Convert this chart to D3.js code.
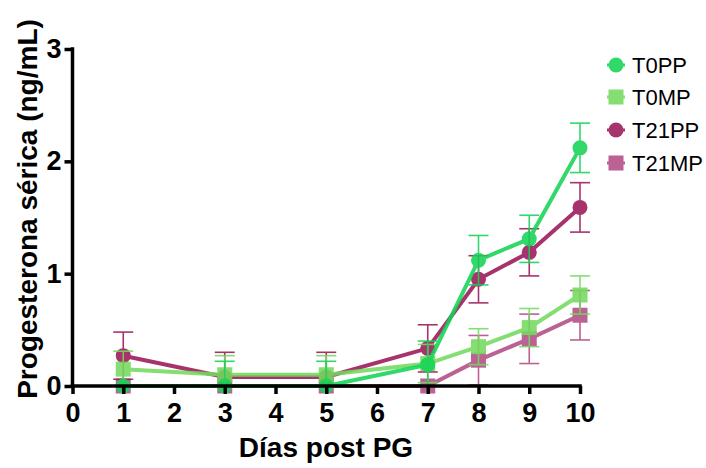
<!DOCTYPE html>
<html><head><meta charset="utf-8">
<script src="https://cdn.jsdelivr.net/npm/d3@7"></script>
<style>body{margin:0;background:#fff}svg{display:block}</style>
</head><body>
<svg id="c" width="706" height="468"></svg>
<script>
const days = [1, 3, 5, 7, 8, 9, 10];
const xTicks = [0,1,2,3,4,5,6,7,8,9,10];
const yTicks = [0,1,2,3];
const seriesNames = ["T0PP", "T0MP", "T21PP", "T21MP"];
const T0PP = [0, 0, 0, 0.19, 1.12, 1.31, 2.12];
const T0PP_err = [0, 0.22, 0.22, 0.21, 0.22, 0.21, 0.22];
const T0MP = [0.15, 0.10, 0.10, 0.20, 0.35, 0.52, 0.81];
const T0MP_err = [0.16, 0.17, 0.17, 0.17, 0.16, 0.17, 0.17];
const T21PP = [0.27, 0.08, 0.08, 0.335, 0.95, 1.19, 1.59];
const T21PP_err = [0.21, 0.22, 0.22, 0.21, 0.21, 0.21, 0.22];
const T21MP = [0, 0, 0, 0, 0.23, 0.42, 0.63];
const T21MP_err = [0, 0, 0, 0, 0.22, 0.22, 0.22];
const colors = ["#14d456", "#74da5e", "#9c1858", "#b24c86"];
const shapes = ["circle", "square", "circle", "square"];

const series = [
  {name: seriesNames[0], v: T0PP, e: T0PP_err, c: colors[0], s: shapes[0]},
  {name: seriesNames[1], v: T0MP, e: T0MP_err, c: colors[1], s: shapes[1]},
  {name: seriesNames[2], v: T21PP, e: T21PP_err, c: colors[2], s: shapes[2]},
  {name: seriesNames[3], v: T21MP, e: T21MP_err, c: colors[3], s: shapes[3]}
];

const svg = d3.select("#c");
const x = d3.scaleLinear().domain([0, 10]).range([72.5, 580]);
const y = d3.scaleLinear().domain([0, 3]).range([386, 49]);
const font = "'Liberation Sans', Arial, sans-serif";

const order = [3, 2, 1, 0];
const op = 0.88;
order.forEach(i => {
  const s = series[i];
  const g = svg.append("g").attr("opacity", op);
  const line = d3.line().x((d, j) => x(days[j])).y(d => y(d));
  g.append("path").attr("d", line(s.v)).attr("fill", "none")
    .attr("stroke", s.c).attr("stroke-width", 4);
  s.v.forEach((v, j) => {
    const e = s.e[j];
    if (e > 0) {
      const cx = x(days[j]);
      g.append("line").attr("x1", cx).attr("x2", cx).attr("y1", y(v + e)).attr("y2", y(Math.max(0, v - e)))
        .attr("stroke", s.c).attr("stroke-width", 1.6);
      [v + e, Math.max(0, v - e)].forEach(t => {
        g.append("line").attr("x1", cx - 10).attr("x2", cx + 10).attr("y1", y(t)).attr("y2", y(t))
          .attr("stroke", s.c).attr("stroke-width", 1.6);
      });
    }
  });
  s.v.forEach((v, j) => {
    if (s.s === "circle") {
      g.append("circle").attr("cx", x(days[j])).attr("cy", y(v)).attr("r", 7.5).attr("fill", s.c);
    } else {
      g.append("rect").attr("x", x(days[j]) - 7.5).attr("y", y(v) - 7.5).attr("width", 15).attr("height", 15).attr("fill", s.c);
    }
  });
});

const xAxis = svg.append("g").attr("transform", "translate(0,386)")
  .call(d3.axisBottom(x).tickValues(xTicks).tickFormat(d3.format("d")).tickSize(8).tickPadding(9));
const yAxis = svg.append("g").attr("transform", "translate(72.5,0)")
  .call(d3.axisLeft(y).tickValues(yTicks).tickFormat(d3.format("d")).tickSize(8).tickPadding(3));
[xAxis, yAxis].forEach(a => {
  a.select(".domain").attr("stroke", "#000").attr("stroke-width", 3.5);
  a.selectAll(".tick line").attr("stroke", "#000").attr("stroke-width", 3.5);
  a.selectAll(".tick text").attr("fill", "#000").attr("font-family", font)
    .attr("font-weight", "bold").attr("font-size", 27);
});
xAxis.select(".domain").attr("d", "M" + (x(0) - 1.75) + ",0H" + (x(10) + 1.75));
yAxis.select(".domain").attr("d", "M0," + (y(3) - 1.75) + "V" + (y(0) + 1.75));

svg.append("text").attr("x", 326).attr("y", 457).attr("text-anchor", "middle")
  .attr("font-family", font).attr("font-weight", "bold").attr("font-size", 28).text("Días post PG");
svg.append("text").attr("transform", "translate(37,209) rotate(-90)").attr("text-anchor", "middle")
  .attr("font-family", font).attr("font-weight", "bold").attr("font-size", 28).text("Progesterona sérica (ng/mL)");

const ly = [65, 97, 130, 163];
series.forEach((s, i) => {
  const g = svg.append("g").attr("opacity", op);
  g.append("line").attr("x1", 607).attr("x2", 625).attr("y1", ly[i]).attr("y2", ly[i])
    .attr("stroke", s.c).attr("stroke-width", 3);
  if (s.s === "circle") g.append("circle").attr("cx", 616).attr("cy", ly[i]).attr("r", 7.5).attr("fill", s.c);
  else g.append("rect").attr("x", 608.5).attr("y", ly[i] - 7.5).attr("width", 15).attr("height", 15).attr("fill", s.c);
  svg.append("text").attr("x", 632).attr("y", ly[i] + 8).attr("font-family", font)
    .attr("font-size", 22).attr("fill", "#000").text(s.name);
});
</script>
</body></html>
